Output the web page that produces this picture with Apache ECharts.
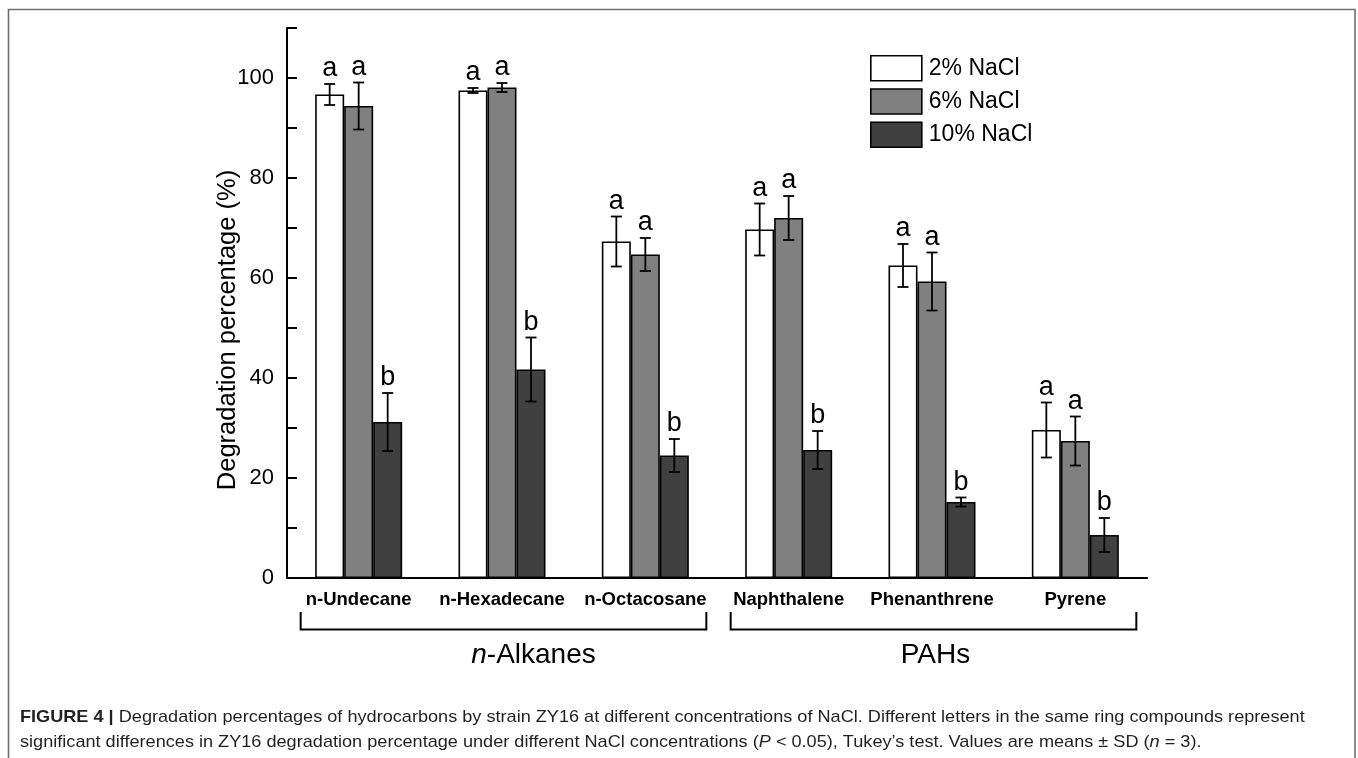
<!DOCTYPE html>
<html>
<head>
<meta charset="utf-8">
<script src="https://cdn.jsdelivr.net/npm/echarts@6/dist/echarts.min.js"></script>
<style>html,body{margin:0;padding:0;background:#fff;}#c{width:1358px;height:758px;}</style>
</head>
<body>
<div id="c"></div>
<script>
const categories = ['n-Undecane', 'n-Hexadecane', 'n-Octacosane', 'Naphthalene', 'Phenanthrene', 'Pyrene'];
const seriesNames = ['2% NaCl', '6% NaCl', '10% NaCl'];
const mean2 = [96.7, 97.5, 67.3, 69.7, 62.5, 29.6];
const sd2 = [2.1, 0.5, 5.0, 5.2, 4.3, 5.5];
const mean6 = [94.4, 98.1, 64.7, 72.0, 59.3, 27.4];
const sd6 = [4.7, 0.9, 3.3, 4.4, 5.8, 4.9];
const mean10 = [31.2, 41.7, 24.5, 25.6, 15.2, 8.6];
const sd10 = [5.8, 6.4, 3.3, 3.8, 0.9, 3.4];
const letters2 = ['a', 'a', 'a', 'a', 'a', 'a'];
const letters6 = ['a', 'a', 'a', 'a', 'a', 'a'];
const letters10 = ['b', 'b', 'b', 'b', 'b', 'b'];
const groups = [
  { name: 'n-Alkanes', italicPrefix: 'n', rest: '-Alkanes', from: 0, to: 2 },
  { name: 'PAHs', italicPrefix: '', rest: 'PAHs', from: 3, to: 5 }
];
const yTicks = { min: 0, max: 110, interval: 10, labelEvery: 20 };

const colors = ['#ffffff', '#808080', '#404040'];
const means = [mean2, mean6, mean10];
const sds = [sd2, sd6, sd10];
const letters = [letters2, letters6, letters10];
const FONT = '"Liberation Sans", Arial, sans-serif';
const CAT_GAP = 0.393;

const chart = echarts.init(document.getElementById('c'));

function errSeries(k) {
  return {
    type: 'custom',
    name: seriesNames[k] + ' err',
    z: 5,
    silent: true,
    data: means[k].map((m, i) => [i, m, sds[k][i], letters[k][i]]),
    encode: { x: 0, y: 1 },
    renderItem: function (params, api) {
      const idx = api.value(0), m = api.value(1), sd = api.value(2);
      const band = api.size([1, 0])[0];
      const barW = band * (1 - CAT_GAP) / 3;
      const c = api.coord([idx, m]);
      const x = c[0] + (k - 1) * barW;
      const top = api.coord([idx, m + sd])[1];
      const bot = api.coord([idx, m - sd])[1];
      const cap = 5.5;
      const ls = { stroke: '#000', lineWidth: 1.8 };
      return {
        type: 'group',
        children: [
          { type: 'line', shape: { x1: x, y1: top, x2: x, y2: bot }, style: ls },
          { type: 'line', shape: { x1: x - cap, y1: top, x2: x + cap, y2: top }, style: ls },
          { type: 'line', shape: { x1: x - cap, y1: bot, x2: x + cap, y2: bot }, style: ls },
          { type: 'text', style: { text: letters[k][params.dataIndex], x: x, y: top - 1.5, align: 'center', verticalAlign: 'bottom', font: '27px ' + FONT, fill: '#000' } }
        ]
      };
    }
  };
}

const barSeries = seriesNames.map((n, k) => ({
  type: 'bar',
  name: n,
  data: means[k],
  barGap: '0%',
  barCategoryGap: (CAT_GAP * 100) + '%',
  itemStyle: { color: colors[k], borderColor: '#000', borderWidth: 1.6 },
  emphasis: { disabled: true }
}));

const option = {
  animation: false,
  backgroundColor: '#fff',
  textStyle: { fontFamily: FONT },
  grid: { left: 287, right: 211, top: 28, bottom: 180, containLabel: false },
  legend: {
    data: seriesNames,
    orient: 'vertical',
    left: 870,
    top: 55,
    padding: 0,
    icon: 'rect',
    itemWidth: 51,
    itemHeight: 25,
    itemGap: 6.6,
    selectedMode: false,
    textStyle: { fontSize: 23, color: '#000', fontFamily: FONT, padding: [0, 0, 0, 2] },
    itemStyle: { borderColor: '#000', borderWidth: 1.6 }
  },
  xAxis: {
    type: 'category',
    data: categories,
    axisLine: { lineStyle: { color: '#000', width: 2 } },
    axisTick: { show: false },
    axisLabel: { color: '#000', fontWeight: 'bold', fontSize: 18.5, margin: 12, fontFamily: FONT, interval: 0 },
    splitLine: { show: false }
  },
  yAxis: {
    type: 'value',
    min: yTicks.min,
    max: yTicks.max,
    interval: yTicks.interval,
    axisLine: { show: true, lineStyle: { color: '#000', width: 2 } },
    axisTick: { show: true, inside: true, length: 10, lineStyle: { color: '#000', width: 2 } },
    axisLabel: {
      color: '#000', fontSize: 22, margin: 13, fontFamily: FONT,
      formatter: v => (v % yTicks.labelEvery === 0 ? String(v) : '')
    },
    splitLine: { show: false }
  },
  series: [...barSeries, errSeries(0), errSeries(1), errSeries(2)]
};
chart.setOption(option);

// annotations: frame, axis title, group brackets, caption
const gfx = [];
gfx.push({ type: 'rect', shape: { x: 8.5, y: 9.5, width: 1346.5, height: 800 }, style: { fill: 'none', stroke: '#707070', lineWidth: 1.6 }, silent: true, z: 0 });
gfx.push({ type: 'text', x: 228, y: 330, rotation: Math.PI / 2, style: { text: 'Degradation percentage (%)', font: '25.5px ' + FONT, fill: '#000', align: 'center', verticalAlign: 'middle' } });
const yBr = 629.5, yBrTop = 612;
groups.forEach(g => {
  const x1 = chart.convertToPixel({ xAxisIndex: 0 }, g.from) - 58;
  const x2 = chart.convertToPixel({ xAxisIndex: 0 }, g.to) + 61;
  gfx.push({ type: 'polyline', shape: { points: [[x1, yBrTop], [x1, yBr], [x2, yBr], [x2, yBrTop]] }, style: { stroke: '#000', lineWidth: 2, fill: 'none' } });
  const cx = g.italicPrefix ? (x1 + x2) / 2 + 30 : (x1 + x2) / 2 + 2;
  gfx.push({
    type: 'text', x: cx, y: 655,
    style: {
      text: (g.italicPrefix ? '{i|' + g.italicPrefix + '}' : '') + '{r|' + g.rest + '}',
      align: 'center', verticalAlign: 'middle',
      rich: { i: { fontStyle: 'italic', fontSize: 28, fontFamily: FONT, fill: '#000' }, r: { fontSize: 28, fontFamily: FONT, fill: '#000' } }
    }
  });
});
const CAPF = '"Liberation Sans", Arial, sans-serif';
const capRich = {
  b: { fontWeight: 'bold', fontSize: 17, fontFamily: CAPF, fill: '#231f20' },
  t: { fontSize: 17, fontFamily: CAPF, fill: '#231f20' },
  i: { fontStyle: 'italic', fontSize: 17, fontFamily: CAPF, fill: '#231f20' }
};
const capScale = 1.066;
gfx.push({ type: 'text', x: 20, y: 717, scaleX: capScale, style: { text: '{b|FIGURE 4 |}{t| Degradation percentages of hydrocarbons by strain ZY16 at different concentrations of NaCl. Different letters in the same ring compounds represent}', verticalAlign: 'middle', rich: capRich } });
gfx.push({ type: 'text', x: 20, y: 742, scaleX: capScale, style: { text: '{t|significant differences in ZY16 degradation percentage under different NaCl concentrations (}{i|P}{t| < 0.05), Tukey\u2019s test. Values are means \u00b1 SD (}{i|n}{t| = 3).}', verticalAlign: 'middle', rich: capRich } });
chart.setOption({ graphic: gfx });
</script>
</body>
</html>
